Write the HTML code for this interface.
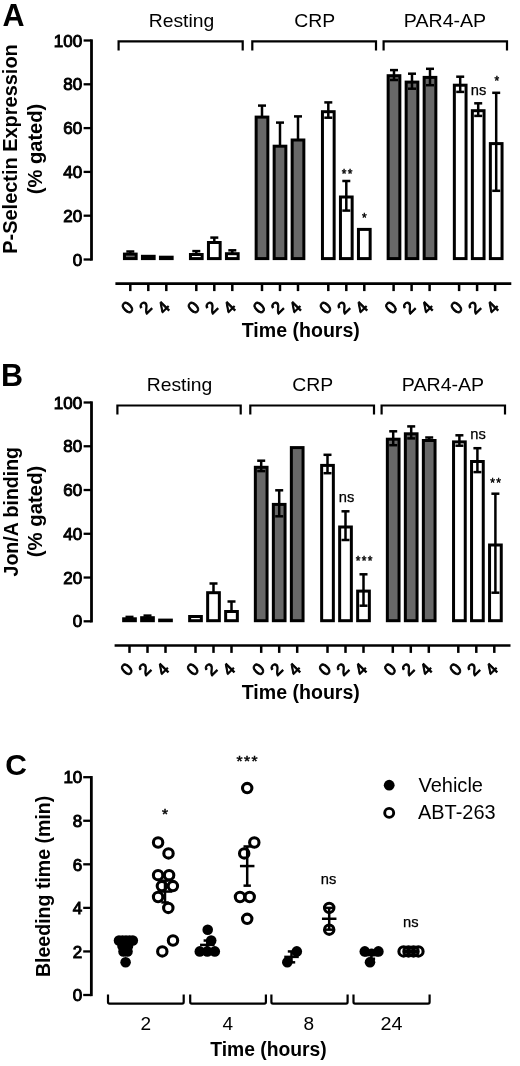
<!DOCTYPE html>
<html lang="en"><head><meta charset="utf-8"><title>Figure</title>
<style>html,body{margin:0;padding:0;background:#fff}svg{display:block}text{font-family:'Liberation Sans', Arial, Helvetica, sans-serif;fill:#000}</style>
</head><body>
<svg width="520" height="1066" viewBox="0 0 520 1066">
<rect width="520" height="1066" fill="#fff"/>
<g>
<text x="2.60" y="25.70" font-size="30.5" font-weight="bold">A</text>
<text transform="translate(17.4,149.0) rotate(-90)" font-size="19.5" font-weight="bold" text-anchor="middle" textLength="209.5" lengthAdjust="spacingAndGlyphs">P-Selectin Expression</text>
<text transform="translate(42.1,149.0) rotate(-90)" font-size="19.5" font-weight="bold" text-anchor="middle" textLength="90.5" lengthAdjust="spacingAndGlyphs">(% gated)</text>
<line x1="91.50" y1="39.35" x2="91.50" y2="260.65" stroke="#000" stroke-width="2.8"/>
<line x1="83.60" y1="40.50" x2="91.50" y2="40.50" stroke="#000" stroke-width="2.3"/>
<text x="82.20" y="46.60" font-size="17" text-anchor="end" stroke="#000" stroke-width="0.95">100</text>
<line x1="83.60" y1="84.30" x2="91.50" y2="84.30" stroke="#000" stroke-width="2.3"/>
<text x="82.20" y="90.40" font-size="17" text-anchor="end" stroke="#000" stroke-width="0.95">80</text>
<line x1="83.60" y1="128.10" x2="91.50" y2="128.10" stroke="#000" stroke-width="2.3"/>
<text x="82.20" y="134.20" font-size="17" text-anchor="end" stroke="#000" stroke-width="0.95">60</text>
<line x1="83.60" y1="171.90" x2="91.50" y2="171.90" stroke="#000" stroke-width="2.3"/>
<text x="82.20" y="178.00" font-size="17" text-anchor="end" stroke="#000" stroke-width="0.95">40</text>
<line x1="83.60" y1="215.70" x2="91.50" y2="215.70" stroke="#000" stroke-width="2.3"/>
<text x="82.20" y="221.80" font-size="17" text-anchor="end" stroke="#000" stroke-width="0.95">20</text>
<line x1="83.60" y1="259.50" x2="91.50" y2="259.50" stroke="#000" stroke-width="2.3"/>
<text x="82.20" y="265.60" font-size="17" text-anchor="end" stroke="#000" stroke-width="0.95">0</text>
<line x1="115.40" y1="283.70" x2="511.30" y2="283.70" stroke="#000" stroke-width="2.7"/>
<line x1="130.30" y1="283.70" x2="130.30" y2="291.10" stroke="#000" stroke-width="2.5"/>
<text transform="translate(127.4,307.4) rotate(-45)" font-size="17" text-anchor="middle" stroke="#000" stroke-width="0.95" dy="6.1">0</text>
<line x1="148.30" y1="283.70" x2="148.30" y2="291.10" stroke="#000" stroke-width="2.5"/>
<text transform="translate(145.4,307.4) rotate(-45)" font-size="17" text-anchor="middle" stroke="#000" stroke-width="0.95" dy="6.1">2</text>
<line x1="166.30" y1="283.70" x2="166.30" y2="291.10" stroke="#000" stroke-width="2.5"/>
<text transform="translate(163.4,307.4) rotate(-45)" font-size="17" text-anchor="middle" stroke="#000" stroke-width="0.95" dy="6.1">4</text>
<line x1="196.30" y1="283.70" x2="196.30" y2="291.10" stroke="#000" stroke-width="2.5"/>
<text transform="translate(193.4,307.4) rotate(-45)" font-size="17" text-anchor="middle" stroke="#000" stroke-width="0.95" dy="6.1">0</text>
<line x1="214.30" y1="283.70" x2="214.30" y2="291.10" stroke="#000" stroke-width="2.5"/>
<text transform="translate(211.4,307.4) rotate(-45)" font-size="17" text-anchor="middle" stroke="#000" stroke-width="0.95" dy="6.1">2</text>
<line x1="232.30" y1="283.70" x2="232.30" y2="291.10" stroke="#000" stroke-width="2.5"/>
<text transform="translate(229.4,307.4) rotate(-45)" font-size="17" text-anchor="middle" stroke="#000" stroke-width="0.95" dy="6.1">4</text>
<line x1="262.00" y1="283.70" x2="262.00" y2="291.10" stroke="#000" stroke-width="2.5"/>
<text transform="translate(259.1,307.4) rotate(-45)" font-size="17" text-anchor="middle" stroke="#000" stroke-width="0.95" dy="6.1">0</text>
<line x1="280.00" y1="283.70" x2="280.00" y2="291.10" stroke="#000" stroke-width="2.5"/>
<text transform="translate(277.1,307.4) rotate(-45)" font-size="17" text-anchor="middle" stroke="#000" stroke-width="0.95" dy="6.1">2</text>
<line x1="298.00" y1="283.70" x2="298.00" y2="291.10" stroke="#000" stroke-width="2.5"/>
<text transform="translate(295.1,307.4) rotate(-45)" font-size="17" text-anchor="middle" stroke="#000" stroke-width="0.95" dy="6.1">4</text>
<line x1="328.30" y1="283.70" x2="328.30" y2="291.10" stroke="#000" stroke-width="2.5"/>
<text transform="translate(325.4,307.4) rotate(-45)" font-size="17" text-anchor="middle" stroke="#000" stroke-width="0.95" dy="6.1">0</text>
<line x1="346.30" y1="283.70" x2="346.30" y2="291.10" stroke="#000" stroke-width="2.5"/>
<text transform="translate(343.4,307.4) rotate(-45)" font-size="17" text-anchor="middle" stroke="#000" stroke-width="0.95" dy="6.1">2</text>
<line x1="364.30" y1="283.70" x2="364.30" y2="291.10" stroke="#000" stroke-width="2.5"/>
<text transform="translate(361.4,307.4) rotate(-45)" font-size="17" text-anchor="middle" stroke="#000" stroke-width="0.95" dy="6.1">4</text>
<line x1="393.60" y1="283.70" x2="393.60" y2="291.10" stroke="#000" stroke-width="2.5"/>
<text transform="translate(390.7,307.4) rotate(-45)" font-size="17" text-anchor="middle" stroke="#000" stroke-width="0.95" dy="6.1">0</text>
<line x1="411.60" y1="283.70" x2="411.60" y2="291.10" stroke="#000" stroke-width="2.5"/>
<text transform="translate(408.7,307.4) rotate(-45)" font-size="17" text-anchor="middle" stroke="#000" stroke-width="0.95" dy="6.1">2</text>
<line x1="429.60" y1="283.70" x2="429.60" y2="291.10" stroke="#000" stroke-width="2.5"/>
<text transform="translate(426.7,307.4) rotate(-45)" font-size="17" text-anchor="middle" stroke="#000" stroke-width="0.95" dy="6.1">4</text>
<line x1="459.10" y1="283.70" x2="459.10" y2="291.10" stroke="#000" stroke-width="2.5"/>
<text transform="translate(456.2,307.4) rotate(-45)" font-size="17" text-anchor="middle" stroke="#000" stroke-width="0.95" dy="6.1">0</text>
<line x1="477.10" y1="283.70" x2="477.10" y2="291.10" stroke="#000" stroke-width="2.5"/>
<text transform="translate(474.2,307.4) rotate(-45)" font-size="17" text-anchor="middle" stroke="#000" stroke-width="0.95" dy="6.1">2</text>
<line x1="495.10" y1="283.70" x2="495.10" y2="291.10" stroke="#000" stroke-width="2.5"/>
<text transform="translate(492.2,307.4) rotate(-45)" font-size="17" text-anchor="middle" stroke="#000" stroke-width="0.95" dy="6.1">4</text>
<text x="300.80" y="337.00" font-size="19.5" font-weight="bold" text-anchor="middle" textLength="118.2" lengthAdjust="spacingAndGlyphs">Time (hours)</text>
<text x="181.50" y="26.90" font-size="19" text-anchor="middle" textLength="65.5" lengthAdjust="spacingAndGlyphs">Resting</text>
<text x="314.70" y="26.90" font-size="19" text-anchor="middle" textLength="41" lengthAdjust="spacingAndGlyphs">CRP</text>
<text x="445.00" y="26.90" font-size="19" text-anchor="middle" textLength="82.3" lengthAdjust="spacingAndGlyphs">PAR4-AP</text>
<path d="M118.60,50.40 V41.40 H242.70 V50.40" fill="none" stroke="#000" stroke-width="2.2" stroke-linejoin="miter"/>
<path d="M252.30,50.40 V41.40 H376.00 V50.40" fill="none" stroke="#000" stroke-width="2.2" stroke-linejoin="miter"/>
<path d="M383.60,50.40 V41.40 H507.00 V50.40" fill="none" stroke="#000" stroke-width="2.2" stroke-linejoin="miter"/>
<rect x="124.45" y="254.10" width="11.70" height="4.50" fill="#686868" stroke="#000" stroke-width="3.0"/>
<line x1="130.30" y1="251.50" x2="130.30" y2="253.60" stroke="#000" stroke-width="2.5"/>
<line x1="126.30" y1="251.50" x2="134.30" y2="251.50" stroke="#000" stroke-width="2.5"/>
<rect x="142.45" y="256.30" width="11.70" height="2.30" fill="#686868" stroke="#000" stroke-width="3.0"/>
<rect x="160.45" y="257.20" width="11.70" height="1.40" fill="#686868" stroke="#000" stroke-width="3.0"/>
<rect x="190.45" y="254.50" width="11.70" height="4.10" fill="#fff" stroke="#000" stroke-width="3.0"/>
<line x1="196.30" y1="251.10" x2="196.30" y2="254.00" stroke="#000" stroke-width="2.5"/>
<line x1="192.30" y1="251.10" x2="200.30" y2="251.10" stroke="#000" stroke-width="2.5"/>
<rect x="208.45" y="242.50" width="11.70" height="16.10" fill="#fff" stroke="#000" stroke-width="3.0"/>
<line x1="214.30" y1="237.60" x2="214.30" y2="242.00" stroke="#000" stroke-width="2.5"/>
<line x1="210.30" y1="237.60" x2="218.30" y2="237.60" stroke="#000" stroke-width="2.5"/>
<rect x="226.45" y="253.70" width="11.70" height="4.90" fill="#fff" stroke="#000" stroke-width="3.0"/>
<line x1="232.30" y1="250.30" x2="232.30" y2="253.20" stroke="#000" stroke-width="2.5"/>
<line x1="228.30" y1="250.30" x2="236.30" y2="250.30" stroke="#000" stroke-width="2.5"/>
<rect x="256.15" y="117.10" width="11.70" height="141.50" fill="#686868" stroke="#000" stroke-width="3.0"/>
<line x1="262.00" y1="105.60" x2="262.00" y2="116.60" stroke="#000" stroke-width="2.5"/>
<line x1="258.00" y1="105.60" x2="266.00" y2="105.60" stroke="#000" stroke-width="2.5"/>
<rect x="274.15" y="146.20" width="11.70" height="112.40" fill="#686868" stroke="#000" stroke-width="3.0"/>
<line x1="280.00" y1="122.60" x2="280.00" y2="145.70" stroke="#000" stroke-width="2.5"/>
<line x1="276.00" y1="122.60" x2="284.00" y2="122.60" stroke="#000" stroke-width="2.5"/>
<rect x="292.15" y="140.00" width="11.70" height="118.60" fill="#686868" stroke="#000" stroke-width="3.0"/>
<line x1="298.00" y1="116.40" x2="298.00" y2="139.50" stroke="#000" stroke-width="2.5"/>
<line x1="294.00" y1="116.40" x2="302.00" y2="116.40" stroke="#000" stroke-width="2.5"/>
<rect x="322.45" y="111.70" width="11.70" height="146.90" fill="#fff" stroke="#000" stroke-width="3.0"/>
<line x1="328.30" y1="102.40" x2="328.30" y2="117.70" stroke="#000" stroke-width="2.5"/>
<line x1="324.30" y1="102.40" x2="332.30" y2="102.40" stroke="#000" stroke-width="2.5"/>
<line x1="324.30" y1="117.70" x2="332.30" y2="117.70" stroke="#000" stroke-width="2.5"/>
<rect x="340.45" y="197.00" width="11.70" height="61.60" fill="#fff" stroke="#000" stroke-width="3.0"/>
<line x1="346.30" y1="181.00" x2="346.30" y2="210.60" stroke="#000" stroke-width="2.5"/>
<line x1="342.30" y1="181.00" x2="350.30" y2="181.00" stroke="#000" stroke-width="2.5"/>
<line x1="342.30" y1="210.60" x2="350.30" y2="210.60" stroke="#000" stroke-width="2.5"/>
<rect x="358.45" y="229.40" width="11.70" height="29.20" fill="#fff" stroke="#000" stroke-width="3.0"/>
<rect x="388.15" y="75.70" width="11.70" height="182.90" fill="#686868" stroke="#000" stroke-width="3.0"/>
<line x1="394.00" y1="70.10" x2="394.00" y2="80.00" stroke="#000" stroke-width="2.5"/>
<line x1="390.00" y1="70.10" x2="398.00" y2="70.10" stroke="#000" stroke-width="2.5"/>
<line x1="390.00" y1="80.00" x2="398.00" y2="80.00" stroke="#000" stroke-width="2.5"/>
<rect x="406.15" y="82.10" width="11.70" height="176.50" fill="#686868" stroke="#000" stroke-width="3.0"/>
<line x1="412.00" y1="73.70" x2="412.00" y2="88.70" stroke="#000" stroke-width="2.5"/>
<line x1="408.00" y1="73.70" x2="416.00" y2="73.70" stroke="#000" stroke-width="2.5"/>
<line x1="408.00" y1="88.70" x2="416.00" y2="88.70" stroke="#000" stroke-width="2.5"/>
<rect x="424.15" y="77.40" width="11.70" height="181.20" fill="#686868" stroke="#000" stroke-width="3.0"/>
<line x1="430.00" y1="68.80" x2="430.00" y2="85.20" stroke="#000" stroke-width="2.5"/>
<line x1="426.00" y1="68.80" x2="434.00" y2="68.80" stroke="#000" stroke-width="2.5"/>
<line x1="426.00" y1="85.20" x2="434.00" y2="85.20" stroke="#000" stroke-width="2.5"/>
<rect x="454.35" y="85.20" width="11.70" height="173.40" fill="#fff" stroke="#000" stroke-width="3.0"/>
<line x1="460.20" y1="76.70" x2="460.20" y2="91.90" stroke="#000" stroke-width="2.5"/>
<line x1="456.20" y1="76.70" x2="464.20" y2="76.70" stroke="#000" stroke-width="2.5"/>
<line x1="456.20" y1="91.90" x2="464.20" y2="91.90" stroke="#000" stroke-width="2.5"/>
<rect x="472.35" y="110.70" width="11.70" height="147.90" fill="#fff" stroke="#000" stroke-width="3.0"/>
<line x1="478.20" y1="103.30" x2="478.20" y2="115.90" stroke="#000" stroke-width="2.5"/>
<line x1="474.20" y1="103.30" x2="482.20" y2="103.30" stroke="#000" stroke-width="2.5"/>
<line x1="474.20" y1="115.90" x2="482.20" y2="115.90" stroke="#000" stroke-width="2.5"/>
<rect x="490.35" y="143.60" width="11.70" height="115.00" fill="#fff" stroke="#000" stroke-width="3.0"/>
<line x1="496.20" y1="92.80" x2="496.20" y2="190.80" stroke="#000" stroke-width="2.5"/>
<line x1="492.20" y1="92.80" x2="500.20" y2="92.80" stroke="#000" stroke-width="2.5"/>
<line x1="492.20" y1="190.80" x2="500.20" y2="190.80" stroke="#000" stroke-width="2.5"/>
<text x="347.75" y="178.30" font-size="12" text-anchor="middle" stroke="#000" stroke-width="0.45" letter-spacing="1.33">**</text>
<text x="365.05" y="221.70" font-size="12" text-anchor="middle" stroke="#000" stroke-width="0.45" letter-spacing="1.33">*</text>
<text x="478.60" y="95.30" font-size="14.7" text-anchor="middle" stroke="#000" stroke-width="0.25">ns</text>
<text x="497.55" y="84.60" font-size="12" text-anchor="middle" stroke="#000" stroke-width="0.45" letter-spacing="1.33">*</text>
</g>
<g>
<text x="0.90" y="386.10" font-size="30.5" font-weight="bold">B</text>
<text transform="translate(18.4,511.7) rotate(-90)" font-size="19.5" font-weight="bold" text-anchor="middle" textLength="129.5" lengthAdjust="spacingAndGlyphs">Jon/A binding</text>
<text transform="translate(42.4,511.4) rotate(-90)" font-size="19.5" font-weight="bold" text-anchor="middle" textLength="91.5" lengthAdjust="spacingAndGlyphs">(% gated)</text>
<line x1="91.50" y1="401.35" x2="91.50" y2="622.45" stroke="#000" stroke-width="2.8"/>
<line x1="83.60" y1="402.50" x2="91.50" y2="402.50" stroke="#000" stroke-width="2.3"/>
<text x="82.20" y="408.60" font-size="17" text-anchor="end" stroke="#000" stroke-width="0.95">100</text>
<line x1="83.60" y1="446.26" x2="91.50" y2="446.26" stroke="#000" stroke-width="2.3"/>
<text x="82.20" y="452.36" font-size="17" text-anchor="end" stroke="#000" stroke-width="0.95">80</text>
<line x1="83.60" y1="490.02" x2="91.50" y2="490.02" stroke="#000" stroke-width="2.3"/>
<text x="82.20" y="496.12" font-size="17" text-anchor="end" stroke="#000" stroke-width="0.95">60</text>
<line x1="83.60" y1="533.78" x2="91.50" y2="533.78" stroke="#000" stroke-width="2.3"/>
<text x="82.20" y="539.88" font-size="17" text-anchor="end" stroke="#000" stroke-width="0.95">40</text>
<line x1="83.60" y1="577.54" x2="91.50" y2="577.54" stroke="#000" stroke-width="2.3"/>
<text x="82.20" y="583.64" font-size="17" text-anchor="end" stroke="#000" stroke-width="0.95">20</text>
<line x1="83.60" y1="621.30" x2="91.50" y2="621.30" stroke="#000" stroke-width="2.3"/>
<text x="82.20" y="627.40" font-size="17" text-anchor="end" stroke="#000" stroke-width="0.95">0</text>
<line x1="114.60" y1="645.50" x2="510.50" y2="645.50" stroke="#000" stroke-width="2.7"/>
<line x1="129.50" y1="645.50" x2="129.50" y2="652.90" stroke="#000" stroke-width="2.5"/>
<text transform="translate(126.6,669.2) rotate(-45)" font-size="17" text-anchor="middle" stroke="#000" stroke-width="0.95" dy="6.1">0</text>
<line x1="147.50" y1="645.50" x2="147.50" y2="652.90" stroke="#000" stroke-width="2.5"/>
<text transform="translate(144.6,669.2) rotate(-45)" font-size="17" text-anchor="middle" stroke="#000" stroke-width="0.95" dy="6.1">2</text>
<line x1="165.50" y1="645.50" x2="165.50" y2="652.90" stroke="#000" stroke-width="2.5"/>
<text transform="translate(162.6,669.2) rotate(-45)" font-size="17" text-anchor="middle" stroke="#000" stroke-width="0.95" dy="6.1">4</text>
<line x1="195.50" y1="645.50" x2="195.50" y2="652.90" stroke="#000" stroke-width="2.5"/>
<text transform="translate(192.6,669.2) rotate(-45)" font-size="17" text-anchor="middle" stroke="#000" stroke-width="0.95" dy="6.1">0</text>
<line x1="213.50" y1="645.50" x2="213.50" y2="652.90" stroke="#000" stroke-width="2.5"/>
<text transform="translate(210.6,669.2) rotate(-45)" font-size="17" text-anchor="middle" stroke="#000" stroke-width="0.95" dy="6.1">2</text>
<line x1="231.50" y1="645.50" x2="231.50" y2="652.90" stroke="#000" stroke-width="2.5"/>
<text transform="translate(228.6,669.2) rotate(-45)" font-size="17" text-anchor="middle" stroke="#000" stroke-width="0.95" dy="6.1">4</text>
<line x1="261.20" y1="645.50" x2="261.20" y2="652.90" stroke="#000" stroke-width="2.5"/>
<text transform="translate(258.3,669.2) rotate(-45)" font-size="17" text-anchor="middle" stroke="#000" stroke-width="0.95" dy="6.1">0</text>
<line x1="279.20" y1="645.50" x2="279.20" y2="652.90" stroke="#000" stroke-width="2.5"/>
<text transform="translate(276.3,669.2) rotate(-45)" font-size="17" text-anchor="middle" stroke="#000" stroke-width="0.95" dy="6.1">2</text>
<line x1="297.20" y1="645.50" x2="297.20" y2="652.90" stroke="#000" stroke-width="2.5"/>
<text transform="translate(294.3,669.2) rotate(-45)" font-size="17" text-anchor="middle" stroke="#000" stroke-width="0.95" dy="6.1">4</text>
<line x1="327.50" y1="645.50" x2="327.50" y2="652.90" stroke="#000" stroke-width="2.5"/>
<text transform="translate(324.6,669.2) rotate(-45)" font-size="17" text-anchor="middle" stroke="#000" stroke-width="0.95" dy="6.1">0</text>
<line x1="345.50" y1="645.50" x2="345.50" y2="652.90" stroke="#000" stroke-width="2.5"/>
<text transform="translate(342.6,669.2) rotate(-45)" font-size="17" text-anchor="middle" stroke="#000" stroke-width="0.95" dy="6.1">2</text>
<line x1="363.50" y1="645.50" x2="363.50" y2="652.90" stroke="#000" stroke-width="2.5"/>
<text transform="translate(360.6,669.2) rotate(-45)" font-size="17" text-anchor="middle" stroke="#000" stroke-width="0.95" dy="6.1">4</text>
<line x1="392.80" y1="645.50" x2="392.80" y2="652.90" stroke="#000" stroke-width="2.5"/>
<text transform="translate(389.9,669.2) rotate(-45)" font-size="17" text-anchor="middle" stroke="#000" stroke-width="0.95" dy="6.1">0</text>
<line x1="410.80" y1="645.50" x2="410.80" y2="652.90" stroke="#000" stroke-width="2.5"/>
<text transform="translate(407.9,669.2) rotate(-45)" font-size="17" text-anchor="middle" stroke="#000" stroke-width="0.95" dy="6.1">2</text>
<line x1="428.80" y1="645.50" x2="428.80" y2="652.90" stroke="#000" stroke-width="2.5"/>
<text transform="translate(425.9,669.2) rotate(-45)" font-size="17" text-anchor="middle" stroke="#000" stroke-width="0.95" dy="6.1">4</text>
<line x1="458.30" y1="645.50" x2="458.30" y2="652.90" stroke="#000" stroke-width="2.5"/>
<text transform="translate(455.4,669.2) rotate(-45)" font-size="17" text-anchor="middle" stroke="#000" stroke-width="0.95" dy="6.1">0</text>
<line x1="476.30" y1="645.50" x2="476.30" y2="652.90" stroke="#000" stroke-width="2.5"/>
<text transform="translate(473.4,669.2) rotate(-45)" font-size="17" text-anchor="middle" stroke="#000" stroke-width="0.95" dy="6.1">2</text>
<line x1="494.30" y1="645.50" x2="494.30" y2="652.90" stroke="#000" stroke-width="2.5"/>
<text transform="translate(491.4,669.2) rotate(-45)" font-size="17" text-anchor="middle" stroke="#000" stroke-width="0.95" dy="6.1">4</text>
<text x="300.80" y="699.00" font-size="19.5" font-weight="bold" text-anchor="middle" textLength="118.2" lengthAdjust="spacingAndGlyphs">Time (hours)</text>
<text x="179.50" y="390.90" font-size="19" text-anchor="middle" textLength="65.5" lengthAdjust="spacingAndGlyphs">Resting</text>
<text x="312.70" y="390.90" font-size="19" text-anchor="middle" textLength="41" lengthAdjust="spacingAndGlyphs">CRP</text>
<text x="443.00" y="390.90" font-size="19" text-anchor="middle" textLength="82.3" lengthAdjust="spacingAndGlyphs">PAR4-AP</text>
<path d="M117.40,414.50 V405.50 H240.70 V414.50" fill="none" stroke="#000" stroke-width="2.2" stroke-linejoin="miter"/>
<path d="M250.30,414.50 V405.50 H374.00 V414.50" fill="none" stroke="#000" stroke-width="2.2" stroke-linejoin="miter"/>
<path d="M381.60,414.50 V405.50 H505.00 V414.50" fill="none" stroke="#000" stroke-width="2.2" stroke-linejoin="miter"/>
<rect x="123.65" y="618.80" width="11.70" height="1.90" fill="#686868" stroke="#000" stroke-width="3.0"/>
<line x1="129.50" y1="616.90" x2="129.50" y2="618.30" stroke="#000" stroke-width="2.5"/>
<line x1="125.50" y1="616.90" x2="133.50" y2="616.90" stroke="#000" stroke-width="2.5"/>
<rect x="141.65" y="617.70" width="11.70" height="3.00" fill="#686868" stroke="#000" stroke-width="3.0"/>
<line x1="147.50" y1="615.60" x2="147.50" y2="617.20" stroke="#000" stroke-width="2.5"/>
<line x1="143.50" y1="615.60" x2="151.50" y2="615.60" stroke="#000" stroke-width="2.5"/>
<rect x="159.65" y="620.10" width="11.70" height="0.60" fill="#686868" stroke="#000" stroke-width="3.0"/>
<rect x="189.65" y="616.50" width="11.70" height="4.20" fill="#fff" stroke="#000" stroke-width="3.0"/>
<rect x="207.65" y="592.70" width="11.70" height="28.00" fill="#fff" stroke="#000" stroke-width="3.0"/>
<line x1="213.50" y1="583.50" x2="213.50" y2="592.20" stroke="#000" stroke-width="2.5"/>
<line x1="209.50" y1="583.50" x2="217.50" y2="583.50" stroke="#000" stroke-width="2.5"/>
<rect x="225.65" y="611.50" width="11.70" height="9.20" fill="#fff" stroke="#000" stroke-width="3.0"/>
<line x1="231.50" y1="601.50" x2="231.50" y2="611.00" stroke="#000" stroke-width="2.5"/>
<line x1="227.50" y1="601.50" x2="235.50" y2="601.50" stroke="#000" stroke-width="2.5"/>
<rect x="255.35" y="467.30" width="11.70" height="153.40" fill="#686868" stroke="#000" stroke-width="3.0"/>
<line x1="261.20" y1="460.70" x2="261.20" y2="471.10" stroke="#000" stroke-width="2.5"/>
<line x1="257.20" y1="460.70" x2="265.20" y2="460.70" stroke="#000" stroke-width="2.5"/>
<line x1="257.20" y1="471.10" x2="265.20" y2="471.10" stroke="#000" stroke-width="2.5"/>
<rect x="273.35" y="504.40" width="11.70" height="116.30" fill="#686868" stroke="#000" stroke-width="3.0"/>
<line x1="279.20" y1="490.30" x2="279.20" y2="516.30" stroke="#000" stroke-width="2.5"/>
<line x1="275.20" y1="490.30" x2="283.20" y2="490.30" stroke="#000" stroke-width="2.5"/>
<line x1="275.20" y1="516.30" x2="283.20" y2="516.30" stroke="#000" stroke-width="2.5"/>
<rect x="291.35" y="447.60" width="11.70" height="173.10" fill="#686868" stroke="#000" stroke-width="3.0"/>
<rect x="321.65" y="465.40" width="11.70" height="155.30" fill="#fff" stroke="#000" stroke-width="3.0"/>
<line x1="327.50" y1="454.80" x2="327.50" y2="473.20" stroke="#000" stroke-width="2.5"/>
<line x1="323.50" y1="454.80" x2="331.50" y2="454.80" stroke="#000" stroke-width="2.5"/>
<line x1="323.50" y1="473.20" x2="331.50" y2="473.20" stroke="#000" stroke-width="2.5"/>
<rect x="339.65" y="527.00" width="11.70" height="93.70" fill="#fff" stroke="#000" stroke-width="3.0"/>
<line x1="345.50" y1="511.30" x2="345.50" y2="540.00" stroke="#000" stroke-width="2.5"/>
<line x1="341.50" y1="511.30" x2="349.50" y2="511.30" stroke="#000" stroke-width="2.5"/>
<line x1="341.50" y1="540.00" x2="349.50" y2="540.00" stroke="#000" stroke-width="2.5"/>
<rect x="357.65" y="591.10" width="11.70" height="29.60" fill="#fff" stroke="#000" stroke-width="3.0"/>
<line x1="363.50" y1="574.30" x2="363.50" y2="605.70" stroke="#000" stroke-width="2.5"/>
<line x1="359.50" y1="574.30" x2="367.50" y2="574.30" stroke="#000" stroke-width="2.5"/>
<line x1="359.50" y1="605.70" x2="367.50" y2="605.70" stroke="#000" stroke-width="2.5"/>
<rect x="387.35" y="439.20" width="11.70" height="181.50" fill="#686868" stroke="#000" stroke-width="3.0"/>
<line x1="393.20" y1="431.30" x2="393.20" y2="445.20" stroke="#000" stroke-width="2.5"/>
<line x1="389.20" y1="431.30" x2="397.20" y2="431.30" stroke="#000" stroke-width="2.5"/>
<line x1="389.20" y1="445.20" x2="397.20" y2="445.20" stroke="#000" stroke-width="2.5"/>
<rect x="405.35" y="433.80" width="11.70" height="186.90" fill="#686868" stroke="#000" stroke-width="3.0"/>
<line x1="411.20" y1="426.40" x2="411.20" y2="438.40" stroke="#000" stroke-width="2.5"/>
<line x1="407.20" y1="426.40" x2="415.20" y2="426.40" stroke="#000" stroke-width="2.5"/>
<line x1="407.20" y1="438.40" x2="415.20" y2="438.40" stroke="#000" stroke-width="2.5"/>
<rect x="423.35" y="440.50" width="11.70" height="180.20" fill="#686868" stroke="#000" stroke-width="3.0"/>
<line x1="429.20" y1="437.50" x2="429.20" y2="440.40" stroke="#000" stroke-width="2.5"/>
<line x1="425.20" y1="437.50" x2="433.20" y2="437.50" stroke="#000" stroke-width="2.5"/>
<line x1="425.20" y1="440.40" x2="433.20" y2="440.40" stroke="#000" stroke-width="2.5"/>
<rect x="453.55" y="441.90" width="11.70" height="178.80" fill="#fff" stroke="#000" stroke-width="3.0"/>
<line x1="459.40" y1="435.30" x2="459.40" y2="445.70" stroke="#000" stroke-width="2.5"/>
<line x1="455.40" y1="435.30" x2="463.40" y2="435.30" stroke="#000" stroke-width="2.5"/>
<line x1="455.40" y1="445.70" x2="463.40" y2="445.70" stroke="#000" stroke-width="2.5"/>
<rect x="471.55" y="461.50" width="11.70" height="159.20" fill="#fff" stroke="#000" stroke-width="3.0"/>
<line x1="477.40" y1="448.20" x2="477.40" y2="472.10" stroke="#000" stroke-width="2.5"/>
<line x1="473.40" y1="448.20" x2="481.40" y2="448.20" stroke="#000" stroke-width="2.5"/>
<line x1="473.40" y1="472.10" x2="481.40" y2="472.10" stroke="#000" stroke-width="2.5"/>
<rect x="489.55" y="545.00" width="11.70" height="75.70" fill="#fff" stroke="#000" stroke-width="3.0"/>
<line x1="495.40" y1="493.70" x2="495.40" y2="592.70" stroke="#000" stroke-width="2.5"/>
<line x1="491.40" y1="493.70" x2="499.40" y2="493.70" stroke="#000" stroke-width="2.5"/>
<line x1="491.40" y1="592.70" x2="499.40" y2="592.70" stroke="#000" stroke-width="2.5"/>
<text x="346.60" y="501.80" font-size="14.7" text-anchor="middle" stroke="#000" stroke-width="0.25">ns</text>
<text x="364.65" y="565.20" font-size="12" text-anchor="middle" stroke="#000" stroke-width="0.45" letter-spacing="1.33">***</text>
<text x="478.00" y="438.60" font-size="14.7" text-anchor="middle" stroke="#000" stroke-width="0.25">ns</text>
<text x="496.25" y="487.20" font-size="12" text-anchor="middle" stroke="#000" stroke-width="0.45" letter-spacing="1.33">**</text>
</g>
<g>
<text x="5.20" y="775.30" font-size="30" font-weight="bold">C</text>
<text transform="translate(49.9,886.4) rotate(-90)" font-size="19.5" font-weight="bold" text-anchor="middle" textLength="181.3" lengthAdjust="spacingAndGlyphs">Bleeding time (min)</text>
<line x1="91.35" y1="776.05" x2="91.35" y2="996.15" stroke="#000" stroke-width="2.8"/>
<line x1="83.20" y1="777.20" x2="91.35" y2="777.20" stroke="#000" stroke-width="2.3"/>
<text x="82.30" y="783.40" font-size="17" text-anchor="end" stroke="#000" stroke-width="0.95">10</text>
<line x1="83.20" y1="820.76" x2="91.35" y2="820.76" stroke="#000" stroke-width="2.3"/>
<text x="82.30" y="826.96" font-size="17" text-anchor="end" stroke="#000" stroke-width="0.95">8</text>
<line x1="83.20" y1="864.32" x2="91.35" y2="864.32" stroke="#000" stroke-width="2.3"/>
<text x="82.30" y="870.52" font-size="17" text-anchor="end" stroke="#000" stroke-width="0.95">6</text>
<line x1="83.20" y1="907.88" x2="91.35" y2="907.88" stroke="#000" stroke-width="2.3"/>
<text x="82.30" y="914.08" font-size="17" text-anchor="end" stroke="#000" stroke-width="0.95">4</text>
<line x1="83.20" y1="951.44" x2="91.35" y2="951.44" stroke="#000" stroke-width="2.3"/>
<text x="82.30" y="957.64" font-size="17" text-anchor="end" stroke="#000" stroke-width="0.95">2</text>
<line x1="83.20" y1="995.00" x2="91.35" y2="995.00" stroke="#000" stroke-width="2.3"/>
<text x="82.30" y="1001.20" font-size="17" text-anchor="end" stroke="#000" stroke-width="0.95">0</text>
<path d="M108.00,994.60 V1002.10 Q108.00,1003.60 109.50,1003.60 H182.20 Q183.70,1003.60 183.70,1002.10 V994.60" fill="none" stroke="#000" stroke-width="2.2"/>
<path d="M190.20,994.60 V1002.10 Q190.20,1003.60 191.70,1003.60 H264.40 Q265.90,1003.60 265.90,1002.10 V994.60" fill="none" stroke="#000" stroke-width="2.2"/>
<path d="M271.40,994.60 V1002.10 Q271.40,1003.60 272.90,1003.60 H346.10 Q347.60,1003.60 347.60,1002.10 V994.60" fill="none" stroke="#000" stroke-width="2.2"/>
<path d="M353.50,994.60 V1002.10 Q353.50,1003.60 355.00,1003.60 H428.10 Q429.60,1003.60 429.60,1002.10 V994.60" fill="none" stroke="#000" stroke-width="2.2"/>
<text x="145.70" y="1029.50" font-size="17.6" text-anchor="middle" textLength="10.6" lengthAdjust="spacingAndGlyphs">2</text>
<text x="227.70" y="1029.50" font-size="17.6" text-anchor="middle" textLength="10.6" lengthAdjust="spacingAndGlyphs">4</text>
<text x="308.90" y="1029.50" font-size="17.6" text-anchor="middle" textLength="10.6" lengthAdjust="spacingAndGlyphs">8</text>
<text x="391.50" y="1029.50" font-size="17.6" text-anchor="middle" textLength="22.0" lengthAdjust="spacingAndGlyphs">24</text>
<text x="268.50" y="1056.10" font-size="19.5" font-weight="bold" text-anchor="middle" textLength="116.6" lengthAdjust="spacingAndGlyphs">Time (hours)</text>
<circle cx="119.0" cy="940.5" r="5.3" fill="#000"/>
<circle cx="122.5" cy="940.5" r="5.3" fill="#000"/>
<circle cx="126.0" cy="940.5" r="5.3" fill="#000"/>
<circle cx="129.5" cy="940.5" r="5.3" fill="#000"/>
<circle cx="132.8" cy="940.5" r="5.3" fill="#000"/>
<circle cx="122.5" cy="946.0" r="5.3" fill="#000"/>
<circle cx="128.0" cy="946.0" r="5.3" fill="#000"/>
<circle cx="123.5" cy="951.4" r="5.3" fill="#000"/>
<circle cx="127.5" cy="951.4" r="5.3" fill="#000"/>
<circle cx="125.6" cy="962.3" r="5.3" fill="#000"/>
<line x1="118.55" y1="944.91" x2="133.05" y2="944.91" stroke="#000" stroke-width="2.5"/>
<line x1="125.80" y1="942.73" x2="125.80" y2="947.08" stroke="#000" stroke-width="2.5"/>
<line x1="122.10" y1="942.73" x2="129.50" y2="942.73" stroke="#000" stroke-width="2.5"/>
<line x1="122.10" y1="947.08" x2="129.50" y2="947.08" stroke="#000" stroke-width="2.5"/>
<circle cx="158.1" cy="842.5" r="4.7" fill="#fff" fill-opacity="0" stroke="#000" stroke-width="3.1"/>
<circle cx="168.5" cy="853.4" r="4.7" fill="#fff" fill-opacity="0" stroke="#000" stroke-width="3.1"/>
<circle cx="158.1" cy="875.2" r="4.7" fill="#fff" fill-opacity="0" stroke="#000" stroke-width="3.1"/>
<circle cx="169.1" cy="875.2" r="4.7" fill="#fff" fill-opacity="0" stroke="#000" stroke-width="3.1"/>
<circle cx="161.9" cy="886.1" r="4.7" fill="#fff" fill-opacity="0" stroke="#000" stroke-width="3.1"/>
<circle cx="172.9" cy="886.1" r="4.7" fill="#fff" fill-opacity="0" stroke="#000" stroke-width="3.1"/>
<circle cx="158.1" cy="897.0" r="4.7" fill="#fff" fill-opacity="0" stroke="#000" stroke-width="3.1"/>
<circle cx="168.3" cy="907.9" r="4.7" fill="#fff" fill-opacity="0" stroke="#000" stroke-width="3.1"/>
<circle cx="173.0" cy="940.5" r="4.7" fill="#fff" fill-opacity="0" stroke="#000" stroke-width="3.1"/>
<circle cx="162.3" cy="951.4" r="4.7" fill="#fff" fill-opacity="0" stroke="#000" stroke-width="3.1"/>
<line x1="157.75" y1="891.55" x2="172.25" y2="891.55" stroke="#000" stroke-width="2.5"/>
<line x1="165.00" y1="880.65" x2="165.00" y2="902.44" stroke="#000" stroke-width="2.5"/>
<line x1="161.30" y1="880.65" x2="168.70" y2="880.65" stroke="#000" stroke-width="2.5"/>
<line x1="161.30" y1="902.44" x2="168.70" y2="902.44" stroke="#000" stroke-width="2.5"/>
<circle cx="207.7" cy="929.7" r="5.3" fill="#000"/>
<circle cx="211.2" cy="940.5" r="5.3" fill="#000"/>
<circle cx="199.8" cy="951.4" r="5.3" fill="#000"/>
<circle cx="207.3" cy="951.4" r="5.3" fill="#000"/>
<circle cx="214.8" cy="951.4" r="5.3" fill="#000"/>
<line x1="200.05" y1="944.91" x2="214.55" y2="944.91" stroke="#000" stroke-width="2.5"/>
<line x1="207.30" y1="940.55" x2="207.30" y2="949.26" stroke="#000" stroke-width="2.5"/>
<line x1="203.60" y1="940.55" x2="211.00" y2="940.55" stroke="#000" stroke-width="2.5"/>
<line x1="203.60" y1="949.26" x2="211.00" y2="949.26" stroke="#000" stroke-width="2.5"/>
<circle cx="247.2" cy="788.1" r="4.7" fill="#fff" fill-opacity="0" stroke="#000" stroke-width="3.1"/>
<circle cx="254.3" cy="842.5" r="4.7" fill="#fff" fill-opacity="0" stroke="#000" stroke-width="3.1"/>
<circle cx="244.2" cy="853.4" r="4.7" fill="#fff" fill-opacity="0" stroke="#000" stroke-width="3.1"/>
<circle cx="240.0" cy="897.0" r="4.7" fill="#fff" fill-opacity="0" stroke="#000" stroke-width="3.1"/>
<circle cx="249.7" cy="897.0" r="4.7" fill="#fff" fill-opacity="0" stroke="#000" stroke-width="3.1"/>
<circle cx="247.2" cy="918.8" r="4.7" fill="#fff" fill-opacity="0" stroke="#000" stroke-width="3.1"/>
<line x1="239.95" y1="866.06" x2="254.45" y2="866.06" stroke="#000" stroke-width="2.5"/>
<line x1="247.20" y1="846.46" x2="247.20" y2="885.66" stroke="#000" stroke-width="2.5"/>
<line x1="243.50" y1="846.46" x2="250.90" y2="846.46" stroke="#000" stroke-width="2.5"/>
<line x1="243.50" y1="885.66" x2="250.90" y2="885.66" stroke="#000" stroke-width="2.5"/>
<circle cx="296.8" cy="951.4" r="5.3" fill="#000"/>
<circle cx="287.3" cy="962.3" r="5.3" fill="#000"/>
<line x1="284.25" y1="956.88" x2="298.75" y2="956.88" stroke="#000" stroke-width="2.5"/>
<line x1="291.50" y1="951.44" x2="291.50" y2="962.33" stroke="#000" stroke-width="2.5"/>
<line x1="287.80" y1="951.44" x2="295.20" y2="951.44" stroke="#000" stroke-width="2.5"/>
<line x1="287.80" y1="962.33" x2="295.20" y2="962.33" stroke="#000" stroke-width="2.5"/>
<circle cx="329.2" cy="907.9" r="4.7" fill="#fff" fill-opacity="0" stroke="#000" stroke-width="3.1"/>
<circle cx="329.2" cy="929.7" r="4.7" fill="#fff" fill-opacity="0" stroke="#000" stroke-width="3.1"/>
<line x1="321.95" y1="918.77" x2="336.45" y2="918.77" stroke="#000" stroke-width="2.5"/>
<line x1="329.20" y1="907.88" x2="329.20" y2="929.66" stroke="#000" stroke-width="2.5"/>
<line x1="325.50" y1="907.88" x2="332.90" y2="907.88" stroke="#000" stroke-width="2.5"/>
<line x1="325.50" y1="929.66" x2="332.90" y2="929.66" stroke="#000" stroke-width="2.5"/>
<circle cx="364.8" cy="951.4" r="5.3" fill="#000"/>
<circle cx="378.4" cy="951.4" r="5.3" fill="#000"/>
<circle cx="370.0" cy="962.3" r="5.3" fill="#000"/>
<line x1="364.15" y1="955.14" x2="378.65" y2="955.14" stroke="#000" stroke-width="2.5"/>
<line x1="371.40" y1="951.51" x2="371.40" y2="958.78" stroke="#000" stroke-width="2.5"/>
<line x1="367.70" y1="951.51" x2="375.10" y2="951.51" stroke="#000" stroke-width="2.5"/>
<line x1="367.70" y1="958.78" x2="375.10" y2="958.78" stroke="#000" stroke-width="2.5"/>
<ellipse cx="371.6" cy="952.6" rx="3.6" ry="4" fill="#000"/>
<circle cx="403.6" cy="951.4" r="4.7" fill="#fff" fill-opacity="0" stroke="#000" stroke-width="3.1"/>
<circle cx="408.5" cy="951.4" r="4.7" fill="#fff" fill-opacity="0" stroke="#000" stroke-width="3.1"/>
<circle cx="413.5" cy="951.4" r="4.7" fill="#fff" fill-opacity="0" stroke="#000" stroke-width="3.1"/>
<circle cx="418.4" cy="951.4" r="4.7" fill="#fff" fill-opacity="0" stroke="#000" stroke-width="3.1"/>
<line x1="403.75" y1="951.44" x2="418.25" y2="951.44" stroke="#000" stroke-width="2.5"/>
<line x1="404.00" y1="951.44" x2="418.00" y2="951.44" stroke="#000" stroke-width="3.4"/>
<text x="165.80" y="819.40" font-size="15.5" text-anchor="middle" stroke="#000" stroke-width="0.5" letter-spacing="1.57">*</text>
<text x="247.80" y="766.40" font-size="15.5" text-anchor="middle" stroke="#000" stroke-width="0.5" letter-spacing="1.57">***</text>
<text x="328.50" y="884.40" font-size="14.7" text-anchor="middle" stroke="#000" stroke-width="0.25">ns</text>
<text x="410.80" y="927.40" font-size="14.7" text-anchor="middle" stroke="#000" stroke-width="0.25">ns</text>
<circle cx="389.2" cy="785.2" r="5.4" fill="#000"/>
<circle cx="389.2" cy="812.9" r="4.5" fill="#fff" fill-opacity="0" stroke="#000" stroke-width="2.9"/>
<text x="418.40" y="791.70" font-size="19.3" textLength="64.6" lengthAdjust="spacingAndGlyphs">Vehicle</text>
<text x="418.00" y="818.60" font-size="19.3" textLength="77.6" lengthAdjust="spacingAndGlyphs">ABT-263</text>
</g>
</svg></body></html>
